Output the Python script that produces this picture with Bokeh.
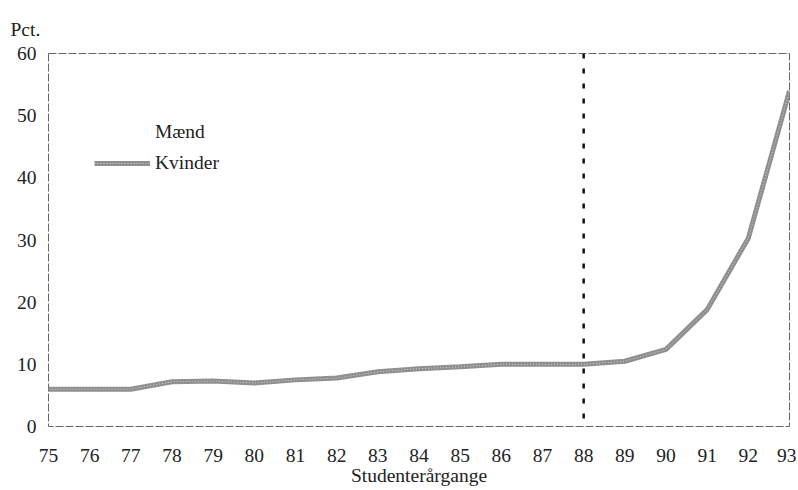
from bokeh.plotting import figure
from bokeh.models import Span, Legend, LegendItem, FixedTicker
from bokeh.embed import file_html
from bokeh.resources import INLINE

years = [75, 76, 77, 78, 79, 80, 81, 82, 83, 84, 85, 86, 87, 88, 89, 90, 91, 92, 93]
kvinder = [6.0, 6.0, 6.0, 7.2, 7.3, 7.0, 7.5, 7.8, 8.8, 9.3, 9.6, 10.0, 10.0, 10.0, 10.5, 12.4, 18.8, 30.3, 54.0]
maend = []  # not visible in the reference
y_ticks = [0, 10, 20, 30, 40, 50, 60]
split_year = 88

FONT = "Liberation Serif"
FS = "19.5px"

p = figure(width=796, height=488, output_backend="svg", toolbar_location=None,
           x_range=(75, 93), y_range=(0, 60),
           min_border_left=48, min_border_right=7, min_border_top=53, min_border_bottom=62,
           title="Pct.")
p.title.text_font = FONT
p.title.text_font_size = FS
p.title.text_font_style = "normal"
p.title.text_color = "#222222"
p.title.align = "left"
p.title.offset = -38
p.title.standoff = 28

p.xgrid.visible = False
p.ygrid.visible = False
p.outline_line_color = "#666666"
p.outline_line_width = 1
p.outline_line_dash = "8 2"

for ax in (p.xaxis[0], p.yaxis[0]):
    ax.axis_line_color = None
    ax.major_tick_line_color = None
    ax.minor_tick_line_color = None
    ax.major_tick_out = 0
    ax.major_label_text_font = FONT
    ax.major_label_text_font_size = FS
    ax.major_label_text_color = "#222222"

p.xaxis.ticker = FixedTicker(ticks=years)
p.xaxis.major_label_standoff = 22
p.xaxis.axis_label = "Studenterårgange"
p.xaxis.axis_label_standoff = 0
p.xaxis.axis_label_text_font = FONT
p.xaxis.axis_label_text_font_size = FS
p.xaxis.axis_label_text_font_style = "normal"
p.xaxis.axis_label_text_color = "#222222"
p.yaxis.ticker = FixedTicker(ticks=y_ticks)
p.yaxis.major_label_standoff = 12

vline = Span(location=split_year, dimension="height", line_color="#111111",
             line_width=2.5, line_dash="5 10")
p.add_layout(vline)

r_k = p.line(years, kvinder, line_color="#8f8f8f", line_width=5)
r_k2 = p.line(years, kvinder, line_color="#d0d0d0", line_width=1, line_dash="1 2")
r_m = p.line(maend, maend, line_color="#ffffff", line_alpha=0, line_width=5)

legend = Legend(items=[LegendItem(label="Mænd", renderers=[r_m]),
                       LegendItem(label="Kvinder", renderers=[r_k, r_k2])],
                location=(46, 251), orientation="vertical",
                border_line_color=None, background_fill_alpha=0,
                padding=0, margin=0, spacing=7,
                glyph_width=56, glyph_height=24, label_height=24,
                label_standoff=5,
                label_text_font=FONT, label_text_font_size=FS,
                label_text_color="#222222")
p.add_layout(legend)

open("out.html", "w").write(file_html(p, INLINE))
